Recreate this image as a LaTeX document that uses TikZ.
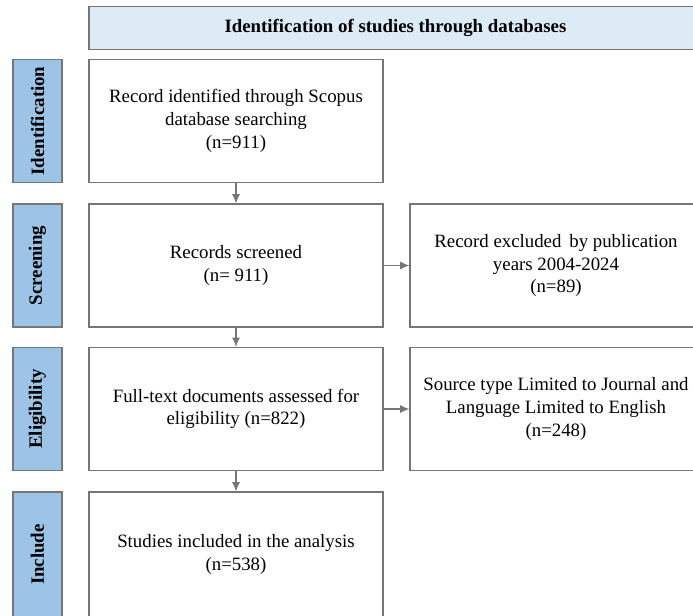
\documentclass[tikz,border=0pt]{standalone}
\usepackage{fontspec}
\setmainfont{Liberation Serif}
\usetikzlibrary{arrows.meta}
\definecolor{headblue}{RGB}{221,235,247}
\definecolor{sideblue}{RGB}{157,195,230}
\definecolor{linegray}{RGB}{118,118,118}

\begin{document}
\begin{tikzpicture}[x=0.6pt, y=-0.6pt,
    every node/.style={font=\fontsize{11.3pt}{13.6pt}\selectfont},
    box/.style={draw=linegray, line width=0.8pt, align=center, inner sep=0pt},
    mainbox/.style={box, minimum width=176.4pt, minimum height=73.8pt},
    sidebox/.style={box, fill=sideblue, rotate=90, minimum width=73.8pt, minimum height=29.4pt, font=\fontsize{11.3pt}{13.6pt}\selectfont\bfseries},
    flow/.style={draw=linegray, line width=0.8pt, -{Latex[length=5.6pt,width=5pt]}}]
    \useasboundingbox (0,0) rectangle (693,615);
    \clip (0,0) rectangle (693,615);
    % Header
    \node[box, fill=headblue, minimum width=367.8pt, minimum height=25.8pt, font=\fontsize{11.3pt}{13.6pt}\selectfont\bfseries] (head) at (395.5,28) {Identification of studies through databases};
    % Identification
    \node[sidebox] (sideident) at (37.5,121) {Identification};
    \node[mainbox] (ident) at (236,121) {Record identified through Scopus\\database searching\\(n=911)};
    % Screening
    \node[sidebox] (sidescreen) at (37.5,265.5) {Screening};
    \node[mainbox] (screen) at (236,265.5) {Records screened\\(n= 911)};
    \node[mainbox, minimum width=175.2pt] (excl) at (556,265.5) {Record excluded\, by publication\\years 2004-2024\\(n=89)};
    % Eligibility
    \node[sidebox] (sideelig) at (37.5,409) {Eligibility};
    \node[mainbox] (elig) at (236,409) {Full-text documents assessed for\\eligibility (n=822)};
    \node[mainbox, minimum width=175.2pt] (limit) at (556,409) {Source type Limited to Journal and\\Language Limited to English\\(n=248)};
    % Include
    \node[sidebox, minimum width=75pt] (sideincl) at (37.5,554.5) {Include};
    \node[mainbox, minimum height=75pt] (incl) at (236,554.5) {Studies included in the analysis\\(n=538)};
    % Arrows
    \draw[flow] (ident) -- (screen);
    \draw[flow] (screen) -- (elig);
    \draw[flow] (elig) -- (incl);
    \draw[flow] (screen) -- (excl);
    \draw[flow] (elig) -- (limit);
\end{tikzpicture}
\end{document}
